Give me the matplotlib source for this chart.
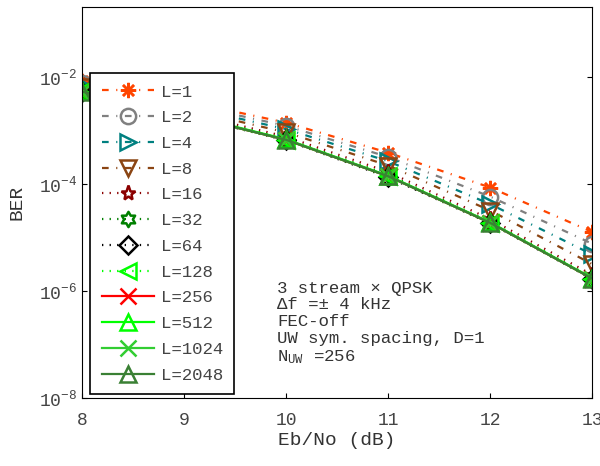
import numpy as np
import matplotlib
matplotlib.use('Agg')
import matplotlib.pyplot as plt
from matplotlib.path import Path

plt.rcParams['font.family'] = ['Liberation Mono', 'DejaVu Sans Mono']
plt.rcParams['mathtext.fontset'] = 'custom'
plt.rcParams['mathtext.rm'] = 'Liberation Mono'
plt.rcParams['mathtext.it'] = 'Liberation Mono'

# Eb/No points (dB)
ebno = [8, 9, 10, 11, 12, 13]

# log10(BER) for each L
labels = ['L=1', 'L=2', 'L=4', 'L=8', 'L=16', 'L=32', 'L=64', 'L=128',
          'L=256', 'L=512', 'L=1024', 'L=2048']
log_ber = [
    [-2.09, -2.45, -2.86, -3.42, -4.07, -4.90],
    [-2.12, -2.50, -2.92, -3.50, -4.24, -5.12],
    [-2.15, -2.55, -2.98, -3.58, -4.38, -5.32],
    [-2.20, -2.60, -3.04, -3.66, -4.50, -5.50],
    [-2.24, -2.66, -3.12, -3.78, -4.66, -5.70],
    [-2.26, -2.69, -3.16, -3.83, -4.71, -5.75],
    [-2.29, -2.72, -3.19, -3.88, -4.74, -5.78],
    [-2.27, -2.71, -3.18, -3.86, -4.73, -5.77],
    [-2.28, -2.71, -3.18, -3.86, -4.73, -5.77],
    [-2.27, -2.70, -3.17, -3.85, -4.72, -5.76],
    [-2.28, -2.71, -3.18, -3.86, -4.73, -5.77],
    [-2.28, -2.71, -3.18, -3.86, -4.73, -5.77],
]

# six-point star (hexagram) marker
ang = np.pi / 2 + np.arange(12) * np.pi / 6
rad = np.where(np.arange(12) % 2 == 0, 1.0, 1 / np.sqrt(3))
verts = np.column_stack([rad * np.cos(ang), rad * np.sin(ang)])
hexagram = Path(np.vstack([verts, verts[:1]]), closed=True)

dashdot = (0, (3.0, 3.4, 0.5, 3.4))
dotted = (0, (0.6, 2.8))
styles = [
    ('#FF4500', dashdot, (8, 2, 0)),
    ('#808080', dashdot, 'o'),
    ('#008080', dashdot, '>'),
    ('#8B4513', dashdot, 'v'),
    ('#8B0000', dotted, '*'),
    ('#008000', dotted, hexagram),
    ('#000000', dotted, 'D'),
    ('#00FF00', dotted, '<'),
    ('#FF0000', '-', 'x'),
    ('#00FF00', '-', '^'),
    ('#32CD32', '-', 'x'),
    ('#3A8034', '-', '^'),
]

fig = plt.figure(figsize=(6, 4.66), dpi=100)
ax = fig.add_axes([0.137, 0.146, 0.85, 0.839])

for lab, vals, (col, ls, mk) in zip(labels, log_ber, styles):
    ms = 9 if mk == 'D' else 11
    ax.semilogy(ebno, 10 ** np.array(vals), color=col, linestyle=ls, linewidth=1.6,
                marker=mk, markersize=ms, markerfacecolor='none', markeredgewidth=1.8,
                label=lab)

ax.set_xlim(8, 13)
ax.set_ylim(1e-8, 0.2)
ax.set_yticks([1e-8, 1e-6, 1e-4, 1e-2])
ax.set_yticklabels([r'$10^{-8}$', r'$10^{-6}$', r'$10^{-4}$', r'$10^{-2}$'])
ax.minorticks_off()
ax.tick_params(direction='in', labelsize=13, right=True, colors='black',
               labelcolor='#444444')
ax.tick_params(axis='x', pad=10)
ax.set_xlabel('Eb/No (dB)', fontsize=14, color='#333333', labelpad=2)
ax.set_ylabel('BER', fontsize=14, color='#333333', labelpad=10)

leg = ax.legend(loc='upper left', bbox_to_anchor=(0.016, 0.831), fontsize=12.5,
                handlelength=3.0, labelspacing=0.61, borderpad=0.65,
                borderaxespad=0, fancybox=False, framealpha=1, edgecolor='black',
                handletextpad=0.4)
leg.get_frame().set_linewidth(1.2)
for t in leg.get_texts():
    t.set_color('#444444')

ax.text(0.382, 0.3,
        '3 stream \u00d7 QPSK\n\u0394f =\u00b1 4 kHz\nFEC-off\nUW sym. spacing, D=1\nN$_{\\rm UW}$ =256',
        transform=ax.transAxes, fontsize=12.5, va='top', ha='left', color='#333333',
        linespacing=1.15)

fig.savefig('out.png', dpi=100)
